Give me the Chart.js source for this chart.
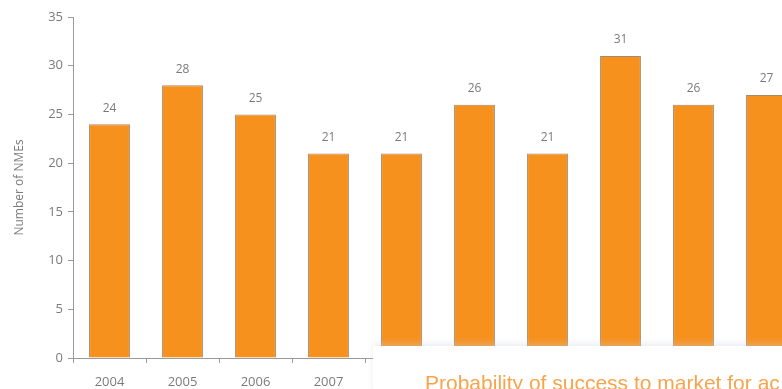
<!DOCTYPE html>
<html lang="en">
<head>
    <meta charset="UTF-8">
    <title>Number of NMEs</title>
    <script src="https://cdn.jsdelivr.net/npm/chart.js"></script>
    <style>
        body {
            margin: 0;
            width: 782px;
            height: 389px;
            overflow: hidden;
            background: #fff;
            position: relative;
        }
        #wrap {
            position: absolute;
            left: 0;
            top: 0;
            width: 810px;
            height: 389px;
        }
        #overlay {
            position: absolute;
            left: 373px;
            top: 346px;
            width: 420px;
            height: 50px;
            background: #fff;
            box-shadow: 0 -3px 6px rgba(200, 210, 220, 0.35);
            overflow: hidden;
        }
        #overlay p {
            margin: 0;
            padding: 26px 0 0 52px;
            white-space: nowrap;
            font-family: "Liberation Sans", Arial, sans-serif;
            font-size: 21px;
            line-height: 22px;
            color: #f6a54c;
        }
    </style>
</head>
<body>
    <div id="wrap"><canvas id="chart"></canvas></div>
    <div id="overlay"><p>Probability of success to market for ac</p></div>

    <script>
        const years = ['2004', '2005', '2006', '2007', '2008', '2009', '2010', '2011', '2012', '2013'];
        const nmes = [24, 28, 25, 21, 21, 26, 21, 31, 26, 27];
        const yTicks = [0, 5, 10, 15, 20, 25, 30, 35];

        const axisGrey = '#9a9a9a';
        const textGrey = '#7b7b7b';

        // draw the value above every bar
        const valueLabels = {
            id: 'valueLabels',
            afterDatasetsDraw(chart) {
                const ctx = chart.ctx;
                const meta = chart.getDatasetMeta(0);
                ctx.save();
                ctx.fillStyle = textGrey;
                ctx.font = '12px "Open Sans", sans-serif';
                ctx.textAlign = 'center';
                ctx.textBaseline = 'middle';
                meta.data.forEach((bar, i) => {
                    ctx.fillText(nmes[i], bar.x, bar.y - 16);
                });
                ctx.restore();
            }
        };

        const ctx = document.getElementById('chart').getContext('2d');
        new Chart(ctx, {
            type: 'bar',
            data: {
                labels: years,
                datasets: [{
                    label: 'Number of NMEs',
                    data: nmes,
                    backgroundColor: '#f7911e',
                    borderColor: 'rgba(150, 115, 80, 0.85)',
                    borderWidth: 1,
                    barPercentage: 0.56,
                    categoryPercentage: 1
                }]
            },
            plugins: [valueLabels],
            options: {
                responsive: true,
                maintainAspectRatio: false,
                animation: false,
                layout: {
                    padding: { top: 17, right: 7, left: 0, bottom: 0 }
                },
                plugins: {
                    legend: { display: false },
                    tooltip: { enabled: false }
                },
                scales: {
                    x: {
                        afterFit(scale) { scale.height = 31; },
                        grid: {
                            display: true,
                            drawOnChartArea: false,
                            offset: true,
                            color: axisGrey,
                            tickLength: 5
                        },
                        border: { color: axisGrey, width: 1 },
                        ticks: {
                            color: textGrey,
                            padding: 11,
                            maxRotation: 0,
                            font: { family: '"Open Sans", sans-serif', size: 13 }
                        }
                    },
                    y: {
                        min: 0,
                        max: 35,
                        afterFit(scale) { scale.width = 73; },
                        afterBuildTicks(scale) {
                            scale.ticks = yTicks.map(v => ({ value: v }));
                        },
                        grid: {
                            display: true,
                            drawOnChartArea: false,
                            color: axisGrey,
                            tickLength: 5
                        },
                        border: { color: axisGrey, width: 1 },
                        ticks: {
                            color: textGrey,
                            padding: 5,
                            font: { family: '"Open Sans", sans-serif', size: 13 }
                        },
                        title: {
                            display: true,
                            text: 'Number of NMEs',
                            color: textGrey,
                            padding: { top: 12, bottom: 0 },
                            font: { family: '"Open Sans", sans-serif', size: 12 }
                        }
                    }
                }
            }
        });
    </script>
</body>
</html>
